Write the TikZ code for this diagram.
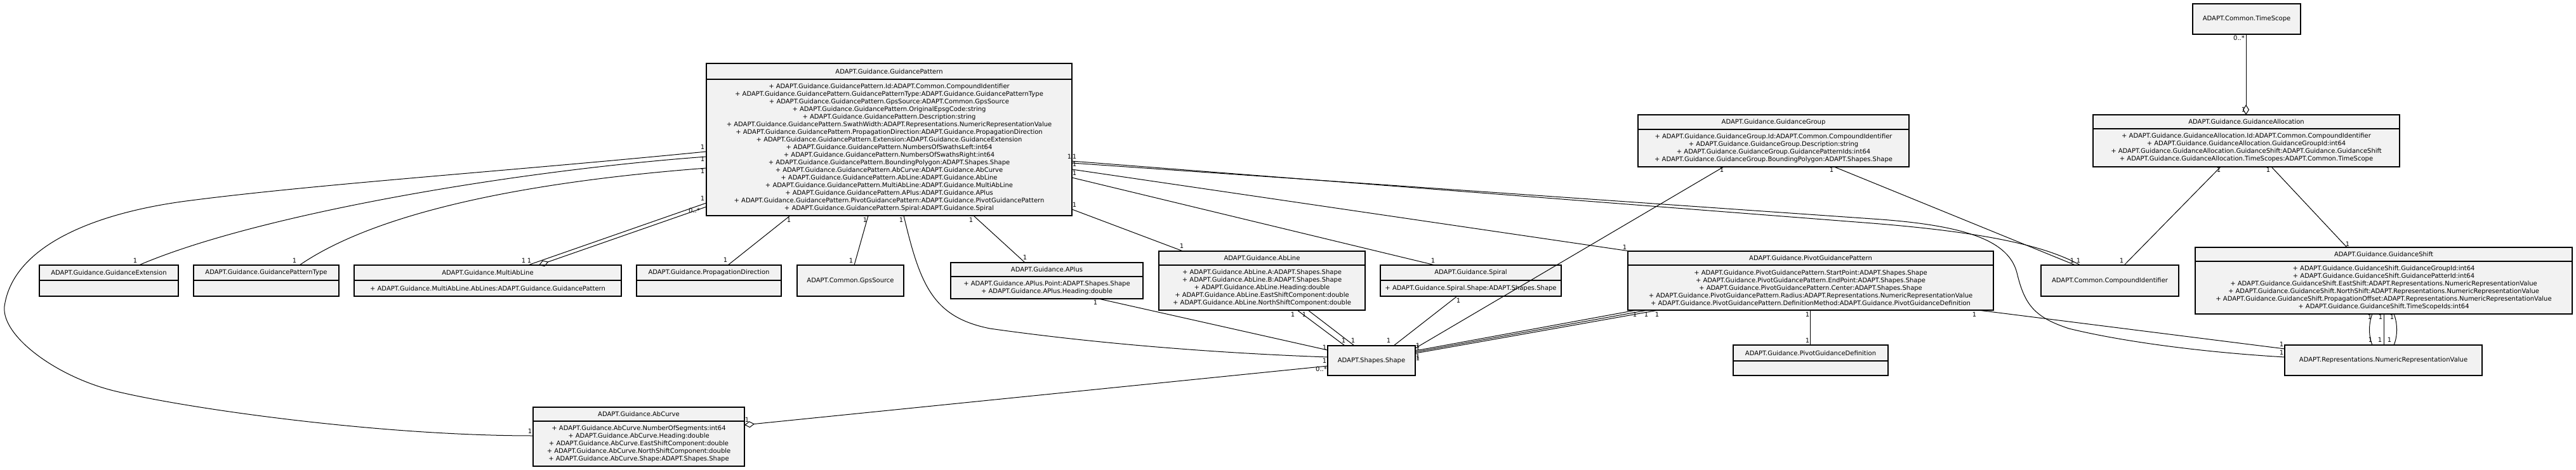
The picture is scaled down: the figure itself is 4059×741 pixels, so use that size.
\documentclass[tikz,border=0pt]{standalone}
\usepackage{fontspec}
\setmainfont{DejaVu Sans}
\usetikzlibrary{arrows.meta,calc}
\definecolor{boxfill}{HTML}{F2F2F2}
\tikzset{
  cls/.style={draw=black, line width=1.3pt, fill=boxfill, inner sep=0pt, outer sep=0pt},
  ttl/.style={font=\fontsize{10}{12}\selectfont, inner sep=0pt},
  att/.style={font=\fontsize{10}{12}\selectfont, align=center, inner sep=0pt},
  lbl/.style={font=\fontsize{10}{12}\selectfont, inner sep=0pt},
  con/.style={draw=black, line width=1pt},
  agg/.style={con, {Diamond[open,length=16pt,width=10pt,line width=1pt]}-},
}
\newcommand{\umlcls}[8]{%
  \node[cls, minimum width={(#4)-(#2)}, minimum height={(#5)-(#3)}] (#1) at ({(#2+#4)/2},{(#3+#5)/2}) {};
  \draw[line width=1.3pt] (#2,#6) -- (#4,#6);
  \node[ttl] (#1-t) at ({(#2+#4)/2},{(#3+#6)/2}) {#7};
  \node[att] (#1-a) at ({(#2+#4)/2},{(#6+#5)/2}) {#8};
}
\newcommand{\umlbox}[6]{%
  \node[cls, minimum width={(#4)-(#2)}, minimum height={(#5)-(#3)}] (#1) at ({(#2+#4)/2},{(#3+#5)/2}) {};
  \node[ttl] (#1-t) at ({(#2+#4)/2},{(#3+#5)/2}) {#6};
}
\begin{document}
\begin{tikzpicture}[x=1pt,y=-1pt]
\path[use as bounding box, fill=white] (0,0) rectangle (4059,741);

% ---------- class boxes ----------
\umlcls{GP}{1113}{100}{1689}{340}{125}{ADAPT.Guidance.GuidancePattern}{%
+ ADAPT.Guidance.GuidancePattern.Id:ADAPT.Common.CompoundIdentifier\\
+ ADAPT.Guidance.GuidancePattern.GuidancePatternType:ADAPT.Guidance.GuidancePatternType\\
+ ADAPT.Guidance.GuidancePattern.GpsSource:ADAPT.Common.GpsSource\\
+ ADAPT.Guidance.GuidancePattern.OriginalEpsgCode:string\\
+ ADAPT.Guidance.GuidancePattern.Description:string\\
+ ADAPT.Guidance.GuidancePattern.SwathWidth:ADAPT.Representations.NumericRepresentationValue\\
+ ADAPT.Guidance.GuidancePattern.PropagationDirection:ADAPT.Guidance.PropagationDirection\\
+ ADAPT.Guidance.GuidancePattern.Extension:ADAPT.Guidance.GuidanceExtension\\
+ ADAPT.Guidance.GuidancePattern.NumbersOfSwathsLeft:int64\\
+ ADAPT.Guidance.GuidancePattern.NumbersOfSwathsRight:int64\\
+ ADAPT.Guidance.GuidancePattern.BoundingPolygon:ADAPT.Shapes.Shape\\
+ ADAPT.Guidance.GuidancePattern.AbCurve:ADAPT.Guidance.AbCurve\\
+ ADAPT.Guidance.GuidancePattern.AbLine:ADAPT.Guidance.AbLine\\
+ ADAPT.Guidance.GuidancePattern.MultiAbLine:ADAPT.Guidance.MultiAbLine\\
+ ADAPT.Guidance.GuidancePattern.APlus:ADAPT.Guidance.APlus\\
+ ADAPT.Guidance.GuidancePattern.PivotGuidancePattern:ADAPT.Guidance.PivotGuidancePattern\\
+ ADAPT.Guidance.GuidancePattern.Spiral:ADAPT.Guidance.Spiral}

\umlcls{GExt}{62}{418}{281}{467}{442}{ADAPT.Guidance.GuidanceExtension}{}
\umlcls{GPT}{305}{418}{534}{467}{442}{ADAPT.Guidance.GuidancePatternType}{}
\umlcls{MAL}{558}{418}{979}{467}{442}{ADAPT.Guidance.MultiAbLine}{+ ADAPT.Guidance.MultiAbLine.AbLines:ADAPT.Guidance.GuidancePattern}
\umlcls{PD}{1003}{418}{1231}{467}{442}{ADAPT.Guidance.PropagationDirection}{}
\umlbox{GPS}{1256}{418}{1424}{467}{ADAPT.Common.GpsSource}
\umlcls{APlus}{1498}{414}{1801}{471}{436}{ADAPT.Guidance.APlus}{%
+ ADAPT.Guidance.APlus.Point:ADAPT.Shapes.Shape\\
+ ADAPT.Guidance.APlus.Heading:double}
\umlcls{AbLine}{1826}{396}{2151}{489}{418}{ADAPT.Guidance.AbLine}{%
+ ADAPT.Guidance.AbLine.A:ADAPT.Shapes.Shape\\
+ ADAPT.Guidance.AbLine.B:ADAPT.Shapes.Shape\\
+ ADAPT.Guidance.AbLine.Heading:double\\
+ ADAPT.Guidance.AbLine.EastShiftComponent:double\\
+ ADAPT.Guidance.AbLine.NorthShiftComponent:double}
\umlcls{Spiral}{2175}{418}{2460}{467}{442}{ADAPT.Guidance.Spiral}{+ ADAPT.Guidance.Spiral.Shape:ADAPT.Shapes.Shape}
\umlbox{Shape}{2092}{545}{2230}{592}{ADAPT.Shapes.Shape}
\umlcls{Pivot}{2565}{396}{3141}{489}{418}{ADAPT.Guidance.PivotGuidancePattern}{%
+ ADAPT.Guidance.PivotGuidancePattern.StartPoint:ADAPT.Shapes.Shape\\
+ ADAPT.Guidance.PivotGuidancePattern.EndPoint:ADAPT.Shapes.Shape\\
+ ADAPT.Guidance.PivotGuidancePattern.Center:ADAPT.Shapes.Shape\\
+ ADAPT.Guidance.PivotGuidancePattern.Radius:ADAPT.Representations.NumericRepresentationValue\\
+ ADAPT.Guidance.PivotGuidancePattern.DefinitionMethod:ADAPT.Guidance.PivotGuidanceDefinition}
\umlcls{PGD}{2731}{544}{2975}{592}{569}{ADAPT.Guidance.PivotGuidanceDefinition}{}
\umlcls{GG}{2581}{181}{3008}{263}{204}{ADAPT.Guidance.GuidanceGroup}{%
+ ADAPT.Guidance.GuidanceGroup.Id:ADAPT.Common.CompoundIdentifier\\
+ ADAPT.Guidance.GuidanceGroup.Description:string\\
+ ADAPT.Guidance.GuidanceGroup.GuidancePatternIds:int64\\
+ ADAPT.Guidance.GuidanceGroup.BoundingPolygon:ADAPT.Shapes.Shape}
\umlbox{CI}{3216}{418}{3433}{467}{ADAPT.Common.CompoundIdentifier}
\umlbox{TS}{3455}{6}{3625}{54}{ADAPT.Common.TimeScope}
\umlcls{GA}{3298}{181}{3781}{263}{203}{ADAPT.Guidance.GuidanceAllocation}{%
+ ADAPT.Guidance.GuidanceAllocation.Id:ADAPT.Common.CompoundIdentifier\\
+ ADAPT.Guidance.GuidanceAllocation.GuidanceGroupId:int64\\
+ ADAPT.Guidance.GuidanceAllocation.GuidanceShift:ADAPT.Guidance.GuidanceShift\\
+ ADAPT.Guidance.GuidanceAllocation.TimeScopes:ADAPT.Common.TimeScope}
\umlcls{GS}{3459}{390}{4053}{495}{412}{ADAPT.Guidance.GuidanceShift}{%
+ ADAPT.Guidance.GuidanceShift.GuidanceGroupId:int64\\
+ ADAPT.Guidance.GuidanceShift.GuidancePatterId:int64\\
+ ADAPT.Guidance.GuidanceShift.EastShift:ADAPT.Representations.NumericRepresentationValue\\
+ ADAPT.Guidance.GuidanceShift.NorthShift:ADAPT.Representations.NumericRepresentationValue\\
+ ADAPT.Guidance.GuidanceShift.PropagationOffset:ADAPT.Representations.NumericRepresentationValue\\
+ ADAPT.Guidance.GuidanceShift.TimeScopeIds:int64}
\umlbox{NRV}{3600}{544}{3911}{592}{ADAPT.Representations.NumericRepresentationValue}
\umlcls{AbCurve}{840}{642}{1173}{735}{664}{ADAPT.Guidance.AbCurve}{%
+ ADAPT.Guidance.AbCurve.NumberOfSegments:int64\\
+ ADAPT.Guidance.AbCurve.Heading:double\\
+ ADAPT.Guidance.AbCurve.EastShiftComponent:double\\
+ ADAPT.Guidance.AbCurve.NorthShiftComponent:double\\
+ ADAPT.Guidance.AbCurve.Shape:ADAPT.Shapes.Shape}

% ---------- connectors ----------
\draw[con] (GP.west |- 0,239)
  .. controls (800,270) and (500,290) .. (293,317)
  .. controls (143,337) and (20,390) .. (7,483)
  .. controls (2,530) and (90,595) .. (183,617)
  .. controls (300,645) and (600,687) .. (AbCurve.west |- 0,687);
\draw[con] (GP.west |- 0,247) .. controls (800,270) and (400,340) .. (219,0 |- GExt.north);
\draw[con] (GP.west |- 0,265) .. controls (850,285) and (600,330) .. (472,0 |- GPT.north);
\draw[con] (GP.west |- 0,320) -- (832,0 |- MAL.north);
\draw[agg] (849,0 |- MAL.north) -- (GP.west |- 0,326);
\draw[con] (1245,0 |- GP.south) -- (1147,0 |- PD.north);
\draw[con] (1368,0 |- GP.south) -- (1346,0 |- GPS.north);
\draw[con] (1424,0 |- GP.south) .. controls (1450,450) and (1470,500) .. (1560,518)
  .. controls (1750,545) and (1950,558) .. (Shape.west |- 0,563);
\draw[con] (1534,0 |- GP.south) -- (1615,0 |- APlus.north);
\draw[con] (GP.east |- 0,330) -- (1864,0 |- AbLine.north);
\draw[con] (GP.east |- 0,280) -- (2261,0 |- Spiral.north);
\draw[con] (GP.east |- 0,267) -- (2568,0 |- Pivot.north);
\draw[con] (GP.east |- 0,254) -- (2950,352) .. controls (3150,368) and (3230,392) .. (3278,0 |- CI.north);
\draw[con] (GP.east |- 0,257) -- (2950,345) .. controls (3100,355) and (3165,380) .. (3178,430)
  .. controls (3190,480) and (3205,500) .. (3260,518)
  .. controls (3350,540) and (3480,556) .. (NRV.west |- 0,563);
\draw[agg] (AbCurve.east |- 0,670) -- (Shape.west |- 0,577);
\draw[con] (1731,0 |- APlus.south) -- (Shape.west |- 0,552);
\draw[con] (2044,0 |- AbLine.south) -- (2119,0 |- Shape.north);
\draw[con] (2061,0 |- AbLine.south) -- (2134,0 |- Shape.north);
\draw[con] (2296,0 |- Spiral.south) -- (2196,0 |- Shape.north);
\draw[con] (2578,0 |- Pivot.south) -- (Shape.east |- 0,553);
\draw[con] (2596,0 |- Pivot.south) -- (Shape.east |- 0,555);
\draw[con] (2613,0 |- Pivot.south) -- (Shape.east |- 0,557);
\draw[con] (2716,0 |- GG.south) -- (Shape.east |- 0,549);
\draw[con] (2852,0 |- Pivot.south) -- (2852,0 |- PGD.north);
\draw[con] (3117,0 |- Pivot.south) -- (NRV.west |- 0,550);
\draw[con] (2890,0 |- GG.south) -- (3270,0 |- CI.north);
\draw[con] (3499,0 |- GA.south) -- (3347,0 |- CI.north);
\draw[con] (3579,0 |- GA.south) -- (3698,0 |- GS.north);
\draw[agg] (3539,0 |- GA.north) -- (3539,0 |- TS.south);
\draw[con] (3738,0 |- GS.south) .. controls (3732,510) and (3732,530) .. (3738,0 |- NRV.north);
\draw[con] (3756,0 |- GS.south) -- (3756,0 |- NRV.north);
\draw[con] (3772,0 |- GS.south) .. controls (3778,510) and (3778,530) .. (3772,0 |- NRV.north);

% ---------- multiplicity labels ----------
\node[lbl] (m1) at (1107,232) {1};
\node[lbl] (m2) at (1107,251) {1};
\node[lbl] (m3) at (1107,270) {1};
\node[lbl] (m4) at (1107,313) {1};
\node[lbl] (m5) at (1094,332) {0..*};
\node[lbl] (m6) at (213,411) {1};
\node[lbl] (m7) at (464,411) {1};
\node[lbl] (m8) at (825,411) {1};
\node[lbl] (m9) at (834,411) {1};
\node[lbl] (m10) at (1243,347) {1};
\node[lbl] (m11) at (1143,410) {1};
\node[lbl] (m12) at (1363,347) {1};
\node[lbl] (m13) at (1341,411) {1};
\node[lbl] (m14) at (1420,347) {1};
\node[lbl] (m15) at (1530,347) {1};
\node[lbl] (m16) at (1615,406) {1};
\node[lbl] (m17) at (1685,247) {1};
\node[lbl] (m18) at (1693,247) {1};
\node[lbl] (m19) at (1693,259) {1};
\node[lbl] (m20) at (1693,273) {1};
\node[lbl] (m21) at (1693,323) {1};
\node[lbl] (m22) at (1862,388) {1};
\node[lbl] (m23) at (2258,411) {1};
\node[lbl] (m24) at (2560,390) {1};
\node[lbl] (m25) at (835,680) {1};
\node[lbl] (m26) at (1177,662) {1};
\node[lbl] (m27) at (2082,582) {0..*};
\node[lbl] (m28) at (1726,477) {1};
\node[lbl] (m29) at (2087,548) {1};
\node[lbl] (m30) at (2087,569) {1};
\node[lbl] (m31) at (2037,496) {1};
\node[lbl] (m32) at (2055,496) {1};
\node[lbl] (m33) at (2117,537) {1};
\node[lbl] (m34) at (2132,537) {1};
\node[lbl] (m35) at (2298,474) {1};
\node[lbl] (m36) at (2188,537) {1};
\node[lbl] (m37) at (2234,545) {1};
\node[lbl] (m38) at (2234,548) {1};
\node[lbl] (m39) at (2234,562) {1};
\node[lbl] (m40) at (2234,565) {1};
\node[lbl] (m41) at (2576,496) {1};
\node[lbl] (m42) at (2594,496) {1};
\node[lbl] (m43) at (2611,496) {1};
\node[lbl] (m44) at (2713,268) {1};
\node[lbl] (m45) at (2886,268) {1};
\node[lbl] (m46) at (2848,496) {1};
\node[lbl] (m47) at (2848,537) {1};
\node[lbl] (m48) at (3111,496) {1};
\node[lbl] (m49) at (3595,543) {1};
\node[lbl] (m50) at (3595,556) {1};
\node[lbl] (m51) at (3496,268) {1};
\node[lbl] (m52) at (3574,268) {1};
\node[lbl] (m53) at (3699,385) {1};
\node[lbl] (m54) at (3528,60) {0..*};
\node[lbl] (m55) at (3535,173) {1};
\node[lbl] (m56) at (3734,500) {1};
\node[lbl] (m57) at (3751,500) {1};
\node[lbl] (m58) at (3769,500) {1};
\node[lbl] (m59) at (3735,536) {1};
\node[lbl] (m60) at (3750,536) {1};
\node[lbl] (m61) at (3765,536) {1};
\node[lbl] (m62) at (3265,411) {1};
\node[lbl] (m63) at (3275,411) {1};
\node[lbl] (m64) at (3343,411) {1};
\end{tikzpicture}
\end{document}
